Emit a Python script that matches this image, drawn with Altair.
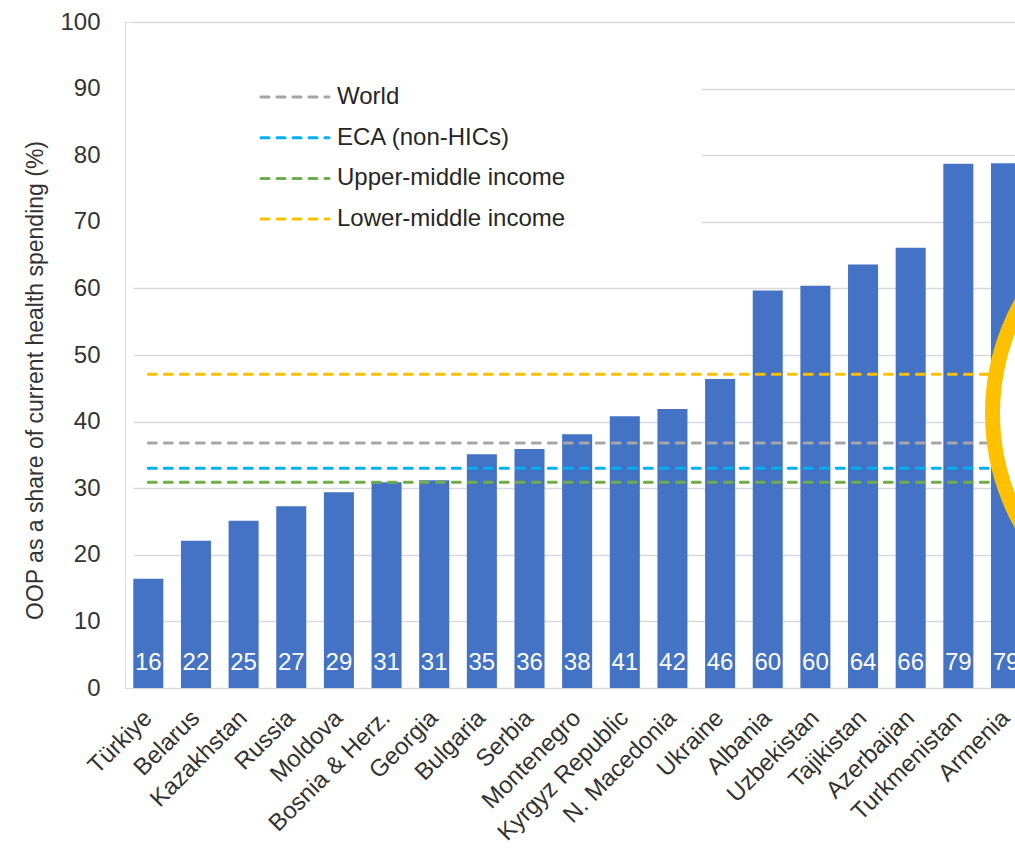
import altair as alt
import pandas as pd

countries = ["Türkiye", "Belarus", "Kazakhstan", "Russia", "Moldova", "Bosnia & Herz.",
             "Georgia", "Bulgaria", "Serbia", "Montenegro", "Kyrgyz Republic",
             "N. Macedonia", "Ukraine", "Albania", "Uzbekistan", "Tajikistan",
             "Azerbaijan", "Turkmenistan", "Armenia"]
oop = [16.4, 22.1, 25.1, 27.3, 29.4, 30.9, 31.2, 35.1, 35.9, 38.1, 40.8, 41.9,
       46.4, 59.7, 60.4, 63.6, 66.1, 78.7, 78.8]

ref_names = ["World", "ECA (non-HICs)", "Upper-middle income", "Lower-middle income"]
ref_values = [36.8, 33.0, 30.9, 47.1]
ref_colors = ["#A5A5A5", "#00B0F0", "#70AD47", "#FFC000"]

FONT = "Liberation Sans"
W, H = 890, 666

bars_df = pd.DataFrame({"country": countries, "oop": oop})
ref_df = pd.DataFrame({"name": ref_names, "value": ref_values, "color": ref_colors})
ref_df["ly"] = [100 - (75 + i * 40.7) / (H / 100) for i in range(len(ref_names))]

xscale = alt.Scale(domain=countries, range=[8.3, 896], paddingInner=0.37,
                   paddingOuter=0, align=0)
yscale = alt.Scale(domain=[0, 100], nice=False)

base = alt.Chart(bars_df)

bars = base.mark_bar(color="#4472C4", clip=True).encode(
    x=alt.X("country:N", scale=xscale, sort=countries,
            axis=alt.Axis(title=None, labelAngle=-45, labelAlign="right",
                          labelBaseline="middle", labelFontSize=24, labelPadding=26,
                          labelColor="#333333", labelFont=FONT, domain=False,
                          ticks=False, labelOverlap=False)),
    y=alt.Y("oop:Q", scale=yscale,
            axis=alt.Axis(values=list(range(0, 101, 10)), grid=True, gridColor="#D9D9D9",
                          gridWidth=1.5, domain=False, ticks=False, labelFontSize=24,
                          labelPadding=25, labelColor="#333333", labelFont=FONT,
                          title="OOP as a share of current health spending (%)",
                          titleFont=FONT, titleFontSize=23, titleFontWeight="normal",
                          titleColor="#333333", titleX=-83, titleY=358,
                          titleBaseline="alphabetic")),
)

labels = base.mark_text(color="white", fontSize=24, font=FONT, baseline="alphabetic",
                        clip=True).encode(
    x=alt.X("country:N", sort=countries),
    y=alt.datum(2.7),
    text=alt.Text("oop:Q", format=".0f"),
)

ref_lines = alt.Chart(ref_df).mark_rule(strokeDash=[8, 8], strokeCap="round",
                                        strokeWidth=3, clip=True).encode(
    x=alt.datum(countries[0]),
    x2=alt.value(W),
    y=alt.Y("value:Q"),
    color=alt.Color("color:N", scale=None),
)

legend_box = alt.Chart(pd.DataFrame({"a": [0]})).mark_rect(fill="white").encode(
    x=alt.value(5), x2=alt.value(577), y=alt.value(30), y2=alt.value(240)
)

legend_lines = alt.Chart(ref_df).mark_rule(strokeDash=[8, 8], strokeCap="round",
                                           strokeWidth=3).encode(
    x=alt.value(136), x2=alt.value(204),
    y=alt.Y("ly:Q"),
    color=alt.Color("color:N", scale=None),
)

legend_text = alt.Chart(ref_df).mark_text(align="left", baseline="middle", fontSize=24,
                                          font=FONT, color="#262626").encode(
    x=alt.value(212),
    y=alt.Y("ly:Q"),
    text="name:N",
)

ring = alt.Chart(pd.DataFrame({"a": [0]})).mark_point(
    shape="circle", size=207025, fill="white", fillOpacity=1, stroke="#FFC000",
    strokeWidth=15, opacity=1, clip=True, xOffset=214
).encode(
    x=alt.datum(countries[-1]),
    y=alt.datum(41.2),
)

chart = alt.layer(bars, labels, ref_lines, legend_box, legend_lines, legend_text, ring).properties(
    width=W, height=H,
    autosize=alt.AutoSizeParams(type="none"),
    padding={"left": 125, "top": 22, "right": 0, "bottom": 162},
).configure_view(stroke=None).configure(background="white")

chart.save("out.html", embed_options={"renderer": "svg", "actions": False})
